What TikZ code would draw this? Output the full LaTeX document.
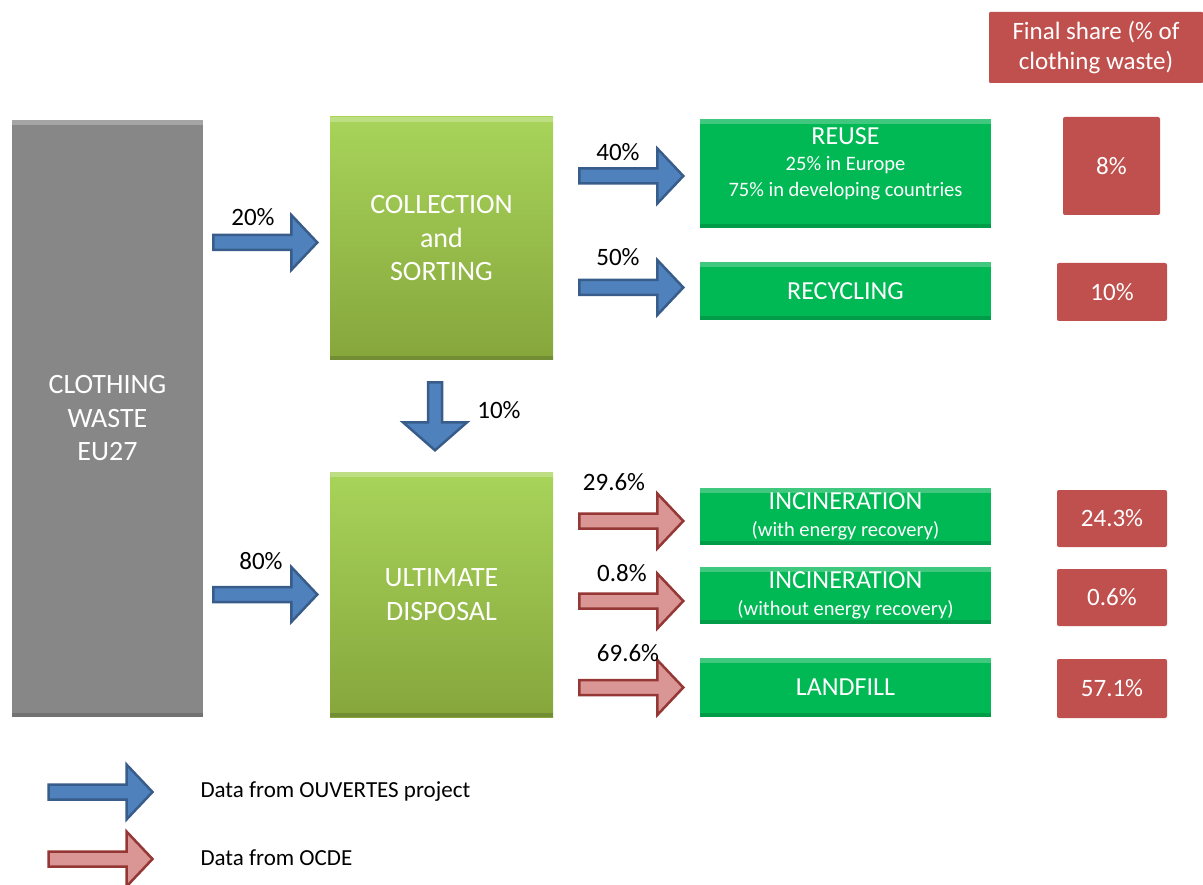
\documentclass[tikz,border=0pt]{standalone}
\usepackage{fontspec}
\setmainfont{Carlito}
\usetikzlibrary{positioning,calc}
\definecolor{wastegray}{RGB}{135,135,135}
\definecolor{sorttop}{RGB}{168,212,90}
\definecolor{sortbottom}{RGB}{134,166,60}
\definecolor{routegreen}{RGB}{0,184,84}
\definecolor{sharered}{RGB}{192,80,77}
\definecolor{ouvblue}{RGB}{79,129,189}
\definecolor{ouvblueline}{RGB}{56,93,138}
\definecolor{ocdered}{RGB}{217,150,148}
\definecolor{ocderedline}{RGB}{149,55,53}

\newcommand{\subline}[1]{{\fontsize{20.5}{24}\selectfont #1}}

\tikzset{
  bevel/.style={path picture={
      \fill[white,opacity=0.25] (path picture bounding box.north west) rectangle ([yshift=-5pt]path picture bounding box.north east);
      \fill[black,opacity=0.15] (path picture bounding box.south west) rectangle ([yshift=4pt]path picture bounding box.south east);}},
  wastebox/.style={bevel, fill=wastegray, text=white, align=center, minimum width=191pt, minimum height=597pt, font=\fontsize{28}{33.5}\selectfont},
  sortbox/.style={bevel, top color=sorttop, bottom color=sortbottom, text=white, align=center, minimum width=223pt, minimum height=243pt, font=\fontsize{28}{33.5}\selectfont},
  routebox/.style={bevel, fill=routegreen, text=white, align=center, minimum width=291pt, font=\fontsize{26}{27}\selectfont},
  sharebox/.style={fill=sharered, rounded corners=2pt, text=white, align=center, font=\fontsize{25}{28}\selectfont},
  pct/.style={font=\fontsize{25}{28}\selectfont},
  legendtext/.style={anchor=west, font=\fontsize{23}{26}\selectfont},
  ouvarrow/.style={fill=ouvblue, draw=ouvblueline, line width=2.5pt},
  ocdearrow/.style={fill=ocdered, draw=ocderedline, line width=2.5pt},
  pics/fatarrow/.style n args={4}{code={
    \path[pic actions] (0,0) -- (-#4,#3) -- (-#4,#2) -- (-#1,#2) -- (-#1,-#2) -- (-#4,-#2) -- (-#4,-#3) -- cycle;}}
}

\begin{document}
\begin{tikzpicture}[x=1pt,y=-1pt]
    \useasboundingbox (0,0) rectangle (1203,885);

    % Waste and first split
    \node[wastebox] (waste) at (107.5,418.5) {CLOTHING\\WASTE\\EU27};
    \node[sortbox] (collect) at (441.5,238.5) {COLLECTION\\and\\SORTING};
    \node[sortbox, minimum height=245pt] (dispose) at (441.5,594.5) {ULTIMATE\\DISPOSAL};

    % Routes
    \node[routebox, minimum height=109pt] (reuse) at (845.5,173.5) {};
    \node[text=white, align=center, font=\fontsize{26}{26}\selectfont] (reusetxt) at ($(reuse.center)+(0,-10)$)
        {REUSE\\\subline{25\% in Europe}\\\subline{75\% in developing countries}};
    \foreach \n/\y/\h/\t in {recyc/291/58/RECYCLING,
        incinA/516.5/57/{INCINERATION\\\subline{(with energy recovery)}},
        incinB/595.5/57/{INCINERATION\\\subline{(without energy recovery)}},
        landfill/687.5/59/LANDFILL} {
        \node[routebox, minimum height=\h pt] (\n) at (845.5,\y) {\t};
    }

    % Final shares
    \node[sharebox, rounded corners=1pt, minimum width=214pt, minimum height=71pt, font=\fontsize{25}{30}\selectfont]
        (sharehead) at (1096,47.5) {Final share (\% of\\clothing waste)};
    \node[sharebox, minimum width=97pt, minimum height=98pt] (share8) at (1111.5,166) {8\%};
    \foreach \n/\y/\h/\t in {share10/292/58/10\%, share243/518.5/57/24.3\%,
        share06/597.5/57/0.6\%, share571/688.5/59/57.1\%} {
        \node[sharebox, minimum width=110pt, minimum height=\h pt] (\n) at (1112,\y) {\t};
    }

    % Arrows
    \pic[ouvarrow] at ($(collect.west)+(-12.5,4)$) {fatarrow={104}{7.5}{27.5}{26}};
    \pic[ouvarrow] at ($(dispose.west)+(-12.5,0)$) {fatarrow={104}{7.5}{27.5}{26}};
    \pic[ouvarrow, rotate=-90] at ($(dispose.north)+(-6.5,-21.5)$) {fatarrow={68}{7}{32}{28}};
    \pic[ouvarrow] at ($(reuse.west)+(-16.5,2.5)$) {fatarrow={104}{7.5}{27.5}{26}};
    \pic[ouvarrow] at ($(recyc.west)+(-16.5,-3.5)$) {fatarrow={104}{7.5}{27.5}{26}};
    \pic[ocdearrow] at ($(incinA.west)+(-16.5,4.5)$) {fatarrow={104}{7.5}{27.5}{26}};
    \pic[ocdearrow] at ($(incinB.west)+(-16.5,5.5)$) {fatarrow={104}{7.5}{27.5}{26}};
    \pic[ocdearrow] at ($(landfill.west)+(-16.5,0)$) {fatarrow={104}{7.5}{27.5}{26}};

    % Percentages on arrows
    \foreach \x/\y/\t [count=\i] in {253/217/20, 261/561/80, 499/410/10, 618/152/40,
        618/257/50, 614/482/29.6, 622/573/0.8, 628/653/69.6} {
        \node[pct] (pct\i) at (\x,\y) {\t\%};
    }

    % Legend
    \pic[ouvarrow] at (152.5,792) {fatarrow={104}{7.5}{27.5}{26}};
    \node[legendtext] (legouv) at (197,792) {Data from OUVERTES project};
    \pic[ocdearrow] at (152.5,859) {fatarrow={104}{7.5}{27.5}{26}};
    \node[legendtext] (legocde) at (197,858) {Data from OCDE};
\end{tikzpicture}
\end{document}
